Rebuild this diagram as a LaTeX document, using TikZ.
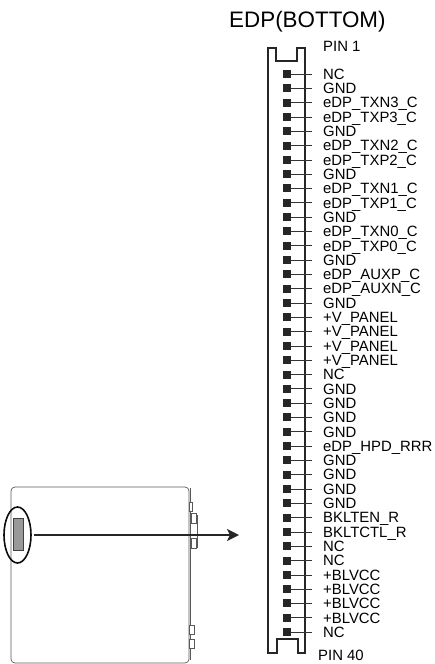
\documentclass[tikz,border=0pt]{standalone}
\usepackage{fontspec}
\setmainfont{Liberation Sans}
\usetikzlibrary{positioning}
\usetikzlibrary{arrows.meta}
\usetikzlibrary{shapes.geometric}
\tikzstyle{pad} = [fill=black!85, minimum width=8pt, minimum height=8pt, inner sep=0pt]
\tikzstyle{pinlabel} = [anchor=west, inner sep=0pt, font=\fontsize{14.9}{14.9}\selectfont, text height=10.6pt, text depth=0pt]
\tikzstyle{pinline} = [draw, line width=0.7pt, black!80, shorten >=11pt]
\tikzstyle{outline} = [draw, line width=1.1pt, black!85]
\tikzstyle{casing} = [draw, line width=0.7pt, black!65]
\tikzstyle{tab} = [draw, line width=0.6pt, black!65, fill=white, inner sep=0pt]
\begin{document}
\begin{tikzpicture}[x=1pt,y=-1pt]
        \useasboundingbox (0,0) rectangle (435,664);

        \node[anchor=base west, inner sep=0pt, font=\fontsize{22.4}{22.4}\selectfont] (title) at (229,27) {EDP(BOTTOM)};
        \node[pinlabel] (pinfirst) at (323,46) {PIN 1};
        \node[pinlabel] (pinlast) at (318,655) {PIN 40};

        % connector body
        \draw[outline] (268,653) -- (268,48) -- (276,48) -- (276,61) -- (297,61) -- (297,48) -- (305,48) -- (305,653) -- (298,653) -- (298,639) -- (277,639) -- (277,653) -- cycle;

        % pins
        \foreach \i/\name in {1/NC,2/GND,3/eDP\_TXN3\_C,4/eDP\_TXP3\_C,5/GND,6/eDP\_TXN2\_C,7/eDP\_TXP2\_C,8/GND,
            9/eDP\_TXN1\_C,10/eDP\_TXP1\_C,11/GND,12/eDP\_TXN0\_C,13/eDP\_TXP0\_C,14/GND,15/eDP\_AUXP\_C,16/eDP\_AUXN\_C,
            17/GND,18/+V\_PANEL,19/+V\_PANEL,20/+V\_PANEL,21/+V\_PANEL,22/NC,23/GND,24/GND,25/GND,26/GND,
            27/eDP\_HPD\_RRR,28/GND,29/GND,30/GND,31/GND,32/BKLTEN\_R,33/BKLTCTL\_R,34/NC,35/NC,
            36/+BLVCC,37/+BLVCC,38/+BLVCC,39/+BLVCC,40/NC}
        {
            \node[pad] (pad\i) at (287,{74+(\i-1)*14.31}) {};
            \node[pinlabel] (lab\i) at (323,{74+(\i-1)*14.31}) {\name};
            \draw[pinline] (pad\i.east) -- (lab\i.west);
        }

        % device seen from the side
        \draw[casing, rounded corners=4pt] (189,487) -- (11,487) -- (11,663) -- (189,663) -- cycle;
        \draw[line width=0.9pt, black!65] (190,488) -- (190,660);
        \node[tab, minimum width=3pt, minimum height=9pt] (tabtop) at (191,507) {};
        \node[tab, minimum width=7pt, minimum height=32pt] (socket) at (194,531) {};
        \node[tab, minimum width=5pt, minimum height=10pt] (socketa) at (194,518) {};
        \node[tab, minimum width=5pt, minimum height=10pt] (socketb) at (194,543) {};
        \node[tab, minimum width=5pt, minimum height=9pt] (tablow) at (192,630) {};
        \node[tab, minimum width=5pt, minimum height=9pt] (tabbottom) at (192,644) {};

        \node[draw=black!75, fill=black!40, line width=0.7pt, minimum width=10pt, minimum height=32pt, inner sep=0pt] (panel) at (18,534) {};
        \node[draw, ellipse, line width=1.6pt, black!95, minimum width=27pt, minimum height=56pt, inner sep=0pt] (circled) at (17.5,535) {};
        \coordinate (arrowend) at (239,535);
        \draw[-{Stealth[length=12pt,width=12pt,inset=3pt]}, line width=1.6pt, black!85, shorten <=2pt] (circled.east) -- (arrowend);

\end{tikzpicture}
\end{document}
